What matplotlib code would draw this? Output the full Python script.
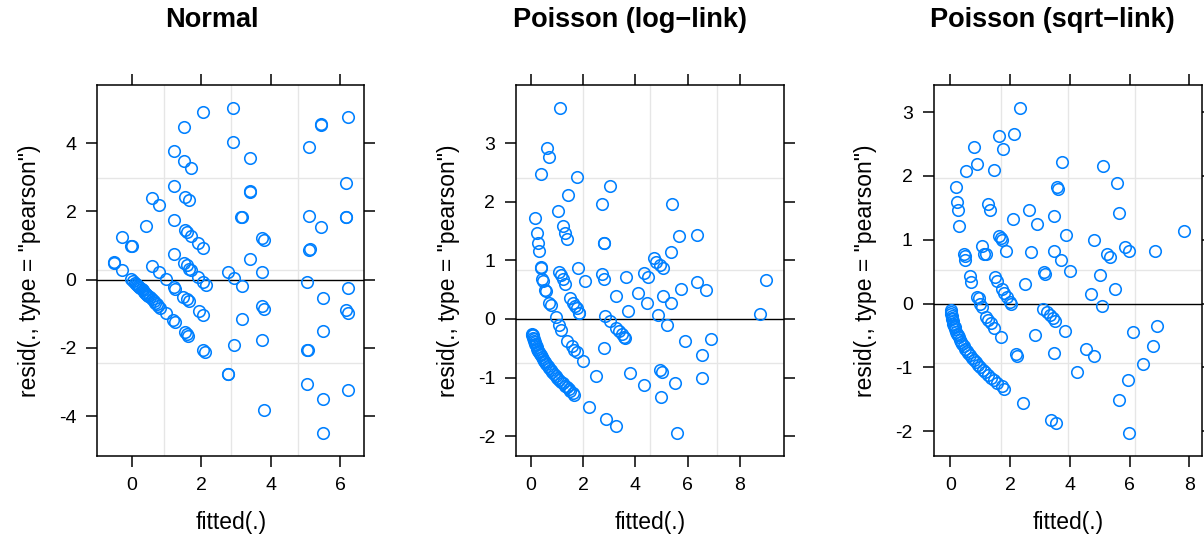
import matplotlib
matplotlib.use("Agg")
import matplotlib.pyplot as plt

plt.rcParams['font.family'] = ['Liberation Sans', 'DejaVu Sans']
plt.rcParams['axes.unicode_minus'] = False

# ---- Normal model: fitted vs pearson residuals ----
normal_fitted = [
    -0.52, -0.50, -0.27, -0.27, -0.03, 0.00, -0.03,
    0.05, 0.09, 0.12, 0.15, 0.19, 0.22, 0.25, 0.29, 0.32, 0.35, 0.38, 0.42, 0.45,
    0.48, 0.52, 0.58, 0.63, 0.67, 0.72, 0.77, 0.82, 0.98, 1.20, 1.25, 1.54, 1.60,
    1.63, 2.06, 2.11,
    0.42, 0.58, 0.59, 0.80, 0.79, 1.00,
    1.23, 1.23, 1.23, 1.23, 1.22, 1.25,
    1.51, 1.51, 1.55, 1.53, 1.51, 1.48,
    1.59, 1.58, 1.58, 1.64, 1.64, 1.64, 1.72, 1.72, 1.72,
    1.92, 1.92, 1.94, 2.06, 2.06, 2.06, 2.04, 2.14,
    2.76, 2.76, 2.77, 2.93, 2.93, 2.95, 2.95,
    3.16, 3.17, 3.17, 3.17, 3.41, 3.41, 3.42, 3.41,
    3.76, 3.76, 3.76, 3.76, 3.82, 3.82, 3.82,
    5.06, 5.06, 5.07, 5.06, 5.12, 5.12, 5.12, 5.13,
    5.45, 5.46, 5.45, 5.51, 5.51, 5.51, 5.51,
    6.17, 6.17, 6.18, 6.17, 6.24, 6.24, 6.24, 6.24,
]
normal_resid = [
    0.51, 0.50, 1.26, 0.27, 0.99, 0.98, 0.03,
    -0.05, -0.10, -0.12, -0.16, -0.20, -0.22, -0.25, -0.29, -0.32, -0.35, -0.38, -0.42, -0.45,
    -0.48, -0.52, -0.58, -0.63, -0.68, -0.72, -0.78, -0.82, -0.99, -1.19, -1.25, -1.53, -1.60,
    -1.64, -2.06, -2.11,
    1.57, 2.40, 0.41, 2.19, 0.21, 0.01,
    3.76, 2.75, 1.76, 0.76, -0.22, -0.27,
    4.47, 3.47, 2.42, 1.45, 0.49, -0.51,
    1.40, 0.43, -0.58, 2.34, 0.32, -0.64, 3.26, 1.29, 0.27,
    1.08, 0.08, -0.92, 4.91, 0.93, -0.08, -1.04, -0.16,
    0.23, -2.76, -2.76, 5.04, 4.04, 0.06, -1.93,
    1.82, 1.83, -0.18, -1.17, 3.57, 2.58, 2.59, 0.59,
    1.21, 0.22, -0.76, -1.77, 1.15, -0.86, -3.83,
    -0.07, -2.05, -2.05, -3.05, 3.87, 1.86, 0.88, 0.89,
    4.55, 4.54, 1.53, -0.53, -1.51, -3.51, -4.51,
    2.82, 1.82, 1.83, -0.90, 4.75, -0.25, -3.24, -0.97,
]

# ---- Poisson, log link ----
log_fitted = [
    1.12, 0.64, 0.69, 0.39, 1.76, 3.05, 1.44, 2.74, 5.41, 1.06, 0.18,
    1.23, 1.31, 1.39, 0.23, 0.28, 0.32, 2.80, 2.81, 5.67, 6.36, 5.35,
    4.70, 4.79, 4.94, 5.06, 0.39, 0.40, 1.82, 1.10, 1.16, 1.22, 1.31,
    0.44, 0.48, 0.54, 0.58, 2.06, 2.73, 2.80, 3.63, 4.34, 4.47,
    6.36, 6.71, 5.73, 5.07, 5.35, 4.10, 4.43, 3.27, 3.71, 4.87, 5.22,
    5.90, 6.90, 6.56, 6.53, 5.53, 4.96, 5.01, 4.97, 5.61, 4.34, 3.78,
    8.76, 8.99, 2.50, 2.80, 2.24, 2.89, 3.27,
    2.85, 3.03, 3.26, 3.39, 3.48, 3.57, 3.62,
    1.50, 1.60, 1.69, 1.76, 1.83, 1.86, 0.71, 0.76,
    0.96, 1.10, 1.17, 1.40, 1.57, 1.67, 1.76, 1.99,
    0.07, 0.07, 0.08, 0.10, 0.12, 0.14, 0.16, 0.18, 0.20, 0.23, 0.26, 0.29,
    0.32, 0.35, 0.38, 0.42, 0.46, 0.50, 0.55, 0.60, 0.65, 0.70, 0.76, 0.82,
    0.88, 0.95, 1.02, 1.08, 1.15, 1.22, 1.30, 1.38, 1.45, 1.52, 1.60, 1.66,
]
log_resid = [
    3.61, 2.92, 2.77, 2.47, 2.43, 2.27, 2.11, 1.96, 1.96, 1.85, 1.73,
    1.59, 1.47, 1.37, 1.46, 1.30, 1.16, 1.30, 1.29, 1.41, 1.44, 1.15,
    1.04, 0.98, 0.92, 0.87, 0.87, 0.88, 0.87, 0.81, 0.75, 0.69, 0.60,
    0.68, 0.65, 0.50, 0.48, 0.64, 0.76, 0.68, 0.71, 0.78, 0.71,
    0.63, 0.50, 0.52, 0.40, 0.27, 0.44, 0.27, 0.39, 0.14, 0.06, -0.10,
    -0.38, -0.34, -0.62, -1.00, -1.09, -0.87, -0.90, -1.34, -1.95, -1.13, -0.93,
    0.08, 0.67, -0.97, -0.50, -1.51, -1.71, -1.83,
    0.05, -0.03, -0.15, -0.21, -0.26, -0.30, -0.32,
    0.36, 0.28, 0.22, 0.18, 0.11, 0.10, 0.28, 0.23,
    0.04, -0.10, -0.18, -0.37, -0.46, -0.53, -0.57, -0.71,
    -0.26, -0.27, -0.28, -0.32, -0.35, -0.37, -0.40, -0.42, -0.45, -0.48, -0.51, -0.54,
    -0.57, -0.59, -0.62, -0.65, -0.68, -0.71, -0.74, -0.77, -0.81, -0.84, -0.87, -0.91,
    -0.94, -0.97, -1.01, -1.04, -1.07, -1.10, -1.14, -1.17, -1.20, -1.23, -1.26, -1.29,
]

# ---- Poisson, sqrt link ----
sqrt_fitted = [
    2.32, 1.62, 2.13, 1.77, 0.79, 0.90, 0.51, 1.46, 3.72, 5.12, 5.56, 0.18, 3.57, 3.60,
    0.22, 0.25, 1.25, 1.31, 2.63, 5.63, 3.45, 2.09, 2.90, 0.30, 7.83, 3.87,
    1.63, 1.68, 1.73, 1.85, 4.81, 1.06, 1.13, 1.18, 0.46, 0.48, 0.50,
    2.68, 3.47, 3.69, 5.85, 5.99, 6.84, 5.23, 5.35,
    3.14, 3.18, 4.00, 4.99, 0.64, 0.69, 1.50, 1.56, 2.50, 4.69, 5.52, 5.08,
    0.88, 0.94, 0.99, 1.05, 1.72, 1.80, 1.89, 1.98, 2.02,
    3.11, 3.23, 3.34, 3.43, 3.50, 1.19, 1.27, 1.35, 1.46,
    1.70, 2.83, 3.84, 6.10, 6.91, 6.77, 6.45, 4.53, 4.81, 3.45, 2.18, 2.24,
    4.22, 5.94, 5.63, 5.99, 3.36, 3.54, 2.44, 1.72, 1.80,
    0.01, 0.02, 0.03, 0.04, 0.05, 0.06, 0.08, 0.10, 0.12, 0.14, 0.16, 0.19,
    0.22, 0.25, 0.28, 0.32, 0.36, 0.40, 0.45, 0.50, 0.55, 0.60, 0.66, 0.72,
    0.78, 0.85, 0.92, 1.00, 1.08, 1.16, 1.25, 1.35, 1.45, 1.55,
]
sqrt_resid = [
    3.06, 2.63, 2.65, 2.42, 2.46, 2.19, 2.07, 2.10, 2.22, 2.15, 1.89, 1.82, 1.82, 1.79,
    1.59, 1.47, 1.56, 1.46, 1.46, 1.42, 1.37, 1.33, 1.24, 1.21, 1.14, 1.07,
    1.06, 1.02, 0.99, 0.83, 1.00, 0.90, 0.78, 0.77, 0.77, 0.74, 0.69,
    0.81, 0.82, 0.69, 0.89, 0.82, 0.83, 0.77, 0.73,
    0.50, 0.47, 0.51, 0.44, 0.43, 0.34, 0.42, 0.36, 0.30, 0.15, 0.22, -0.04,
    0.10, 0.08, 0.00, -0.05, 0.23, 0.17, 0.10, 0.03, -0.01,
    -0.08, -0.13, -0.18, -0.23, -0.27, -0.21, -0.26, -0.31, -0.39,
    -0.53, -0.49, -0.43, -0.44, -0.35, -0.67, -0.95, -0.71, -0.82, -0.77, -0.79, -0.83,
    -1.08, -1.20, -1.52, -2.03, -1.82, -1.88, -1.56, -1.30, -1.34,
    -0.10, -0.14, -0.17, -0.20, -0.22, -0.24, -0.28, -0.32, -0.35, -0.37, -0.40, -0.44,
    -0.47, -0.50, -0.53, -0.57, -0.60, -0.63, -0.67, -0.71, -0.74, -0.77, -0.81, -0.85,
    -0.88, -0.92, -0.96, -1.00, -1.04, -1.08, -1.12, -1.16, -1.20, -1.24,
]

titles = ["Normal", "Poisson (log\u2212link)", "Poisson (sqrt\u2212link)"]
title_x = [212, 630, 1052]

W, H = 1204, 540
fig = plt.figure(figsize=(W / 100, H / 100), dpi=100)

# panel geometry in pixels (left, top, width, height)
panels = [
    (97.3, 84.7, 267, 371.3),
    (516.0, 84.7, 268, 371.3),
    (933.7, 84.7, 268, 371.3),
]
xlims = [(-0.99, 6.70), (-0.56, 9.68), (-0.56, 8.41)]
ylims = [(-5.17, 5.71), (-2.34, 4.00), (-2.39, 3.43)]
xticks = [[0, 2, 4, 6], [0, 2, 4, 6, 8], [0, 2, 4, 6, 8]]
yticks = [[-4, -2, 0, 2, 4], [-2, -1, 0, 1, 2, 3], [-2, -1, 0, 1, 2, 3]]
series = [(normal_fitted, normal_resid), (log_fitted, log_resid), (sqrt_fitted, sqrt_resid)]

for i, (l, t, w, h) in enumerate(panels):
    ax = fig.add_axes([l / W, 1 - (t + h) / H, w / W, h / H])
    x, y = series[i]
    # lattice-style reference grid at quarters of the panel
    for f in (0.25, 0.5, 0.75):
        ax.plot([f, f], [0, 1], transform=ax.transAxes, color='#e6e6e6', lw=1.0, zorder=0)
        ax.plot([0, 1], [f, f], transform=ax.transAxes, color='#e6e6e6', lw=1.0, zorder=0)
    ax.axhline(0, color='black', lw=1.0, zorder=1)
    ax.plot(x, y, 'o', mfc='none', mec='#0080ff', ms=8.3, mew=1.15, zorder=2)
    ax.set_xlim(*xlims[i])
    ax.set_ylim(*ylims[i])
    ax.set_xticks(xticks[i])
    ax.set_yticks(yticks[i])
    ax.tick_params(direction='out', length=8, width=1.1, top=True, right=True,
                   labeltop=False, labelright=False, labelsize=14, pad=7)
    for s in ax.spines.values():
        s.set_linewidth(1.1)

    cx = l + w / 2
    fig.text(title_x[i] / W, 1 - 20 / H, titles[i], ha='center', va='center',
             fontsize=19.5, fontweight='bold')
    fig.text(cx / W, 1 - 523 / H, 'fitted(.)', ha='center', va='center', fontsize=16.5)
    fig.text((l - 68) / W, 1 - (t + h / 2) / H, 'resid(., type = "pearson")',
             rotation=90, ha='center', va='center', fontsize=16.5)

fig.savefig('out.png', dpi=100)
